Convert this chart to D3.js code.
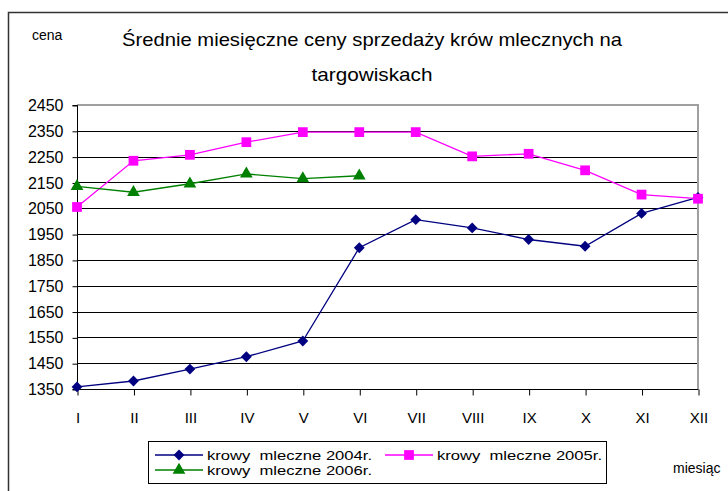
<!DOCTYPE html>
<html>
<head>
<meta charset="utf-8">
<script src="https://cdn.jsdelivr.net/npm/d3@7"></script>
<style>
  body { margin: 0; background: #fff; }
  svg { display: block; font-family: "Liberation Sans", Arial, sans-serif; }
</style>
</head>
<body>
<div id="chart"></div>
<script>
// months on the x axis
var months = ["I", "II", "III", "IV", "V", "VI", "VII", "VIII", "IX", "X", "XI", "XII"]
// y axis tick values
var yTicks = [1350, 1450, 1550, 1650, 1750, 1850, 1950, 2050, 2150, 2250, 2350, 2450]

// average prices
var cows2004 = [1358, 1381, 1427, 1475, 1536, 1897, 2006, 1974, 1929, 1903, 2030, 2092]
var cows2005 = [2055, 2234, 2257, 2306, 2345, 2345, 2345, 2251, 2261, 2197, 2103, 2087]
var cows2006 = [2135, 2112, 2145, 2183, 2165, 2176]

var seriesNames = ["krowy  mleczne 2004r.", "krowy  mleczne 2005r.", "krowy  mleczne 2006r."]

var svgWidth = 728
var svgHeight = 491

var svg = d3.select('#chart')
            .append('svg')
            .attr('width', svgWidth)
            .attr('height', svgHeight)

// outer frame, runs off the right and bottom edge like the original
svg.append('rect')
   .attr('x', 8.5).attr('y', 12.5)
   .attr('width', 760).attr('height', 520)
   .attr('fill', 'none')
   .attr('stroke', '#333')
   .attr('stroke-width', 1.5)

var plot = { left: 77, right: 698, top: 105, bottom: 389 }

var xScale = d3.scalePoint()
               .domain(months)
               .range([plot.left, plot.right])

var yScale = d3.scaleLinear()
               .domain([1350, 2450])
               .range([plot.bottom, plot.top])

// horizontal grid lines
svg.append('g')
   .selectAll('line')
   .data(yTicks.slice(1, -1))
   .enter()
   .append('line')
   .attr('x1', plot.left).attr('x2', plot.right)
   .attr('y1', d => Math.round(yScale(d)) + 0.5)
   .attr('y2', d => Math.round(yScale(d)) + 0.5)
   .attr('stroke', '#000')

// gray top and right border of the plot area
svg.append('path')
   .attr('d', `M${plot.left},${plot.top} H${plot.right} V${plot.bottom}`)
   .attr('fill', 'none')
   .attr('stroke', '#a0a0a0')
   .attr('stroke-width', 2)

// y axis, plain numbers without thousands separator
var leftAxis = d3.axisLeft(yScale).tickValues(yTicks).tickFormat(d3.format('d')).tickSize(5).tickPadding(9)
var gy = svg.append('g')
            .attr('transform', `translate(${plot.left + 0.5}, 0.5)`)
            .call(leftAxis)
gy.select('.domain').attr('d', `M-5,${plot.top}H0V${plot.bottom}H-5`)
gy.selectAll('text').attr('font-size', 16).attr('font-family', null).attr('fill', '#000')
gy.selectAll('line').attr('stroke', '#000')

// x axis
var bottomAxis = d3.axisBottom(xScale).tickSize(6).tickPadding(17)
var gx = svg.append('g')
            .attr('transform', `translate(0.5, ${plot.bottom + 0.5})`)
            .call(bottomAxis)
gx.select('.domain').attr('d', `M${plot.left},0H${plot.right}`)
gx.selectAll('text').attr('font-size', 15).attr('font-family', null).attr('fill', '#000')
gx.selectAll('line').attr('stroke', '#000')

// marker shapes
var diamond = d3.symbol().type(d3.symbolDiamond2).size(75)
var square = d3.symbol().type(d3.symbolSquare).size(95)
var triangle = d3.symbol().type(d3.symbolTriangle).size(70)

var series = [
    { name: seriesNames[0], values: cows2004, color: '#000080', shape: diamond },
    { name: seriesNames[1], values: cows2005, color: '#ff00ff', shape: square },
    { name: seriesNames[2], values: cows2006, color: '#008000', shape: triangle }
]

var line = d3.line()
             .x((d, i) => xScale(months[i]))
             .y(d => yScale(d))

series.forEach(s => {
    svg.append('path')
       .datum(s.values)
       .attr('d', line)
       .attr('fill', 'none')
       .attr('stroke', s.color)
       .attr('stroke-width', 1.3)

    svg.append('g')
       .selectAll('path')
       .data(s.values)
       .enter()
       .append('path')
       .attr('d', s.shape)
       .attr('transform', (d, i) => `translate(${xScale(months[i])}, ${yScale(d)})`)
       .attr('fill', s.color)
})

// title, two lines
svg.append('text')
   .attr('x', 372).attr('y', 46)
   .attr('text-anchor', 'middle')
   .attr('font-size', 19)
   .attr('textLength', 500)
   .attr('lengthAdjust', 'spacingAndGlyphs')
   .text('Średnie miesięczne ceny sprzedaży krów mlecznych na')

svg.append('text')
   .attr('x', 372).attr('y', 81)
   .attr('text-anchor', 'middle')
   .attr('font-size', 19)
   .attr('textLength', 121)
   .attr('lengthAdjust', 'spacingAndGlyphs')
   .text('targowiskach')

// axis titles
svg.append('text')
   .attr('x', 32).attr('y', 40)
   .attr('font-size', 14)
   .text('cena')

svg.append('text')
   .attr('x', 673).attr('y', 473)
   .attr('font-size', 14)
   .text('miesiąc')

// legend
var legend = svg.append('g')
legend.append('rect')
      .attr('x', 148.5).attr('y', 441.5)
      .attr('width', 458).attr('height', 42)
      .attr('fill', '#fff')
      .attr('stroke', '#000')

var legendPos = [
    { x: 155, y: 455 },
    { x: 385, y: 455 },
    { x: 155, y: 470 }
]

series.forEach((s, i) => {
    var p = legendPos[i]
    legend.append('line')
          .attr('x1', p.x).attr('x2', p.x + 48)
          .attr('y1', p.y).attr('y2', p.y)
          .attr('stroke', s.color)
          .attr('stroke-width', 1.3)
    legend.append('path')
          .attr('d', s.shape)
          .attr('transform', `translate(${p.x + 24}, ${p.y})`)
          .attr('fill', s.color)
    legend.append('text')
          .attr('x', p.x + 52).attr('y', p.y + 5)
          .attr('font-size', 13.5)
          .attr('textLength', 165)
          .attr('lengthAdjust', 'spacingAndGlyphs')
          .style('white-space', 'pre')
          .text(s.name)
})
</script>
</body>
</html>
